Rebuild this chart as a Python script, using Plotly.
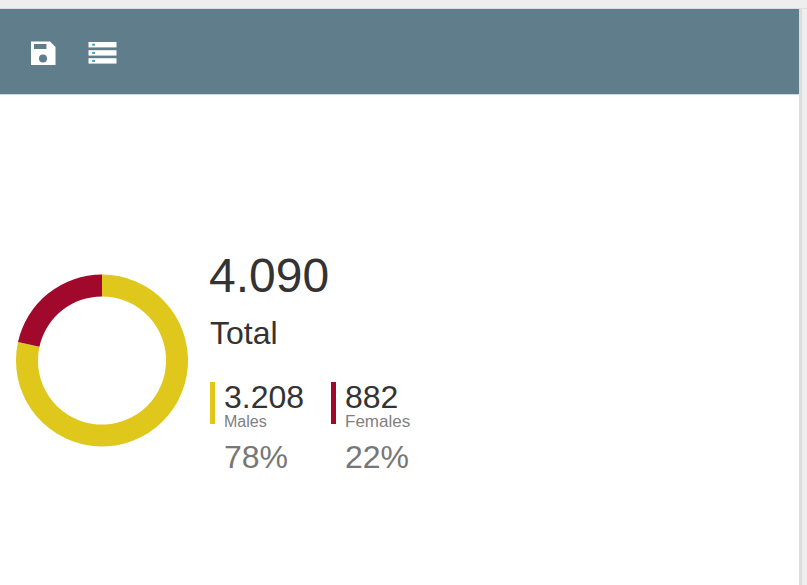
import plotly.graph_objects as go

W, H = 807, 585
categories = ["Males", "Females"]
values = [3208, 882]
colors = ["#dfc71c", "#a0082c"]
value_labels = ["3.208", "882"]
pct_labels = ["78%", "22%"]
total_label = "4.090"

def px(x): return x / W
def py(y): return 1 - y / H

fig = go.Figure(go.Pie(
    labels=categories, values=values, hole=0.745, sort=False, direction="clockwise",
    rotation=0, textinfo="none", hoverinfo="label+value",
    marker=dict(colors=colors, line=dict(width=0)),
    domain=dict(x=[px(16), px(188)], y=[py(446.5), py(274.5)]), showlegend=False,
))

def rect(x0, y0, x1, y1, color, layer="below"):
    return dict(type="rect", xref="paper", yref="paper", x0=px(x0), x1=px(x1), y0=py(y0), y1=py(y1),
                fillcolor=color, line=dict(width=0), layer=layer)

shapes = [
    rect(0, 0, W, 9, "#eeeeee"),
    rect(0, 8, W, 9, "#dddddd"),
    rect(799, 9, W, H, "#eeeeee"),
    rect(799, 9, 802, H, "#dddddd"),
    rect(0, 9, 799, 94, "#607d8b"),
    rect(0, 94, 799, 95, "#cfd8dc"),
    # save icon
    dict(type="path", xref="paper", yref="paper", line=dict(width=0), fillcolor="#ffffff", layer="above",
         path=f"M {px(31)} {py(41.5)} L {px(50)} {py(41.5)} L {px(55.5)} {py(47)} L {px(55.5)} {py(65)} L {px(31)} {py(65)} Z"),
    rect(34, 44, 46.5, 49, "#607d8b", "above"),
    dict(type="circle", xref="paper", yref="paper", x0=px(39), x1=px(47), y0=py(54.5), y1=py(62.5),
         fillcolor="#607d8b", line=dict(width=0), layer="above"),
]
# list icon rows
for top in (42, 50.2, 58.2):
    shapes.append(rect(88.5, top, 116.5, top + 5.4, "#ffffff", "above"))
    shapes.append(rect(92, top + 1.7, 95, top + 3.7, "#4fa3c0", "above"))
# key bars
shapes.append(rect(210, 382, 215, 424, colors[0]))
shapes.append(rect(331, 382, 336, 424, colors[1]))
fig.update_layout(shapes=shapes)

def text(x, y, s, size, color):
    fig.add_annotation(x=px(x), y=py(y), xref="paper", yref="paper", text=s, showarrow=False,
                       xanchor="left", yanchor="middle", borderpad=0,
                       font=dict(family="Liberation Sans, Arial, sans-serif", size=size, color=color))

text(208, 275.5, total_label, 48, "#333333")
text(208.5, 332.5, "Total", 32, "#333333")
text(223, 396.5, value_labels[0], 32, "#333333")
text(344, 396.5, value_labels[1], 32, "#333333")
text(223, 421.5, categories[0], 16, "#808080")
text(344, 421.5, categories[1], 17, "#808080")
text(223, 456.5, pct_labels[0], 32, "#777777")
text(344, 456.5, pct_labels[1], 32, "#777777")

fig.update_layout(width=W, height=H, autosize=False, margin=dict(l=0, r=0, t=0, b=0),
                  paper_bgcolor="#ffffff", plot_bgcolor="#ffffff")
fig.write_html("out.html", config=dict(displayModeBar=False),
               post_script="document.body.style.margin='0';document.body.style.overflow='hidden';")
